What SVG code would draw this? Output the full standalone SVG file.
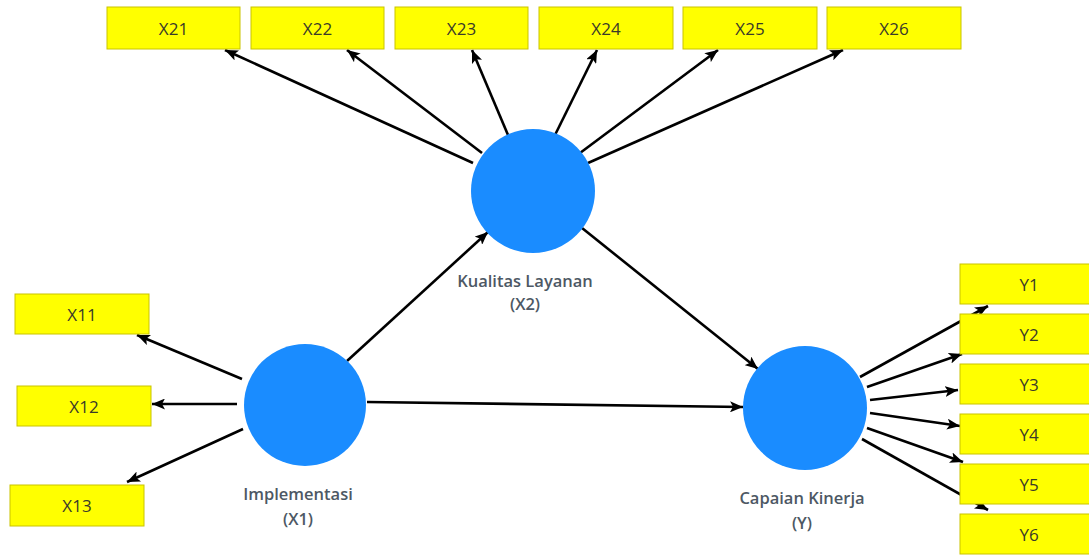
<svg xmlns="http://www.w3.org/2000/svg" width="1089" height="555" viewBox="0 0 1089 555">
<style>
.ind rect{fill:#ffff00;stroke:#c9c400;stroke-width:1}
.ind text{font-family:"Open Sans","Liberation Sans",sans-serif;font-size:17px;fill:#3a3a2a;text-anchor:middle;dominant-baseline:central}
.lat circle{fill:#1a8cff}
.lat text{font-family:"Open Sans","Liberation Sans",sans-serif;font-size:16.5px;font-weight:600;fill:#4d5864;text-anchor:middle;dominant-baseline:central}
.conn line{stroke:#000;stroke-width:2.6;marker-end:url(#ah)}
</style>
<defs>
<marker id="ah" markerUnits="userSpaceOnUse" viewBox="0 0 13 11" refX="13" refY="5.5" markerWidth="13" markerHeight="11" orient="auto">
<path d="M0,0 L13,5.5 L0,11 L3,5.5 Z" fill="#000"/>
</marker>
</defs>
<rect width="1089" height="555" fill="#fff"/>
<g id="connectors" class="conn">
<line x1="473" y1="163" x2="225" y2="50"/>
<line x1="482" y1="153" x2="347" y2="50"/>
<line x1="508" y1="135" x2="472" y2="50"/>
<line x1="555" y1="135" x2="597" y2="50"/>
<line x1="580" y1="153" x2="718" y2="50"/>
<line x1="588" y1="163" x2="843" y2="50"/>
<line x1="242" y1="379" x2="137" y2="335"/>
<line x1="237" y1="404" x2="152" y2="404"/>
<line x1="243" y1="429" x2="127" y2="482"/>
<line x1="347" y1="361" x2="488" y2="232"/>
<line x1="582" y1="228" x2="758" y2="369"/>
<line x1="367" y1="402" x2="743" y2="407"/>
<line x1="860" y1="377" x2="988" y2="306"/>
<line x1="867" y1="387" x2="962" y2="354"/>
<line x1="870" y1="400" x2="958" y2="390"/>
<line x1="870" y1="413" x2="960" y2="426"/>
<line x1="867" y1="428" x2="963" y2="462"/>
<line x1="862" y1="439" x2="988" y2="510"/>
</g>
<g id="X21" class="ind"><rect x="107" y="7" width="133" height="42"/><text x="173.5" y="28">X21</text></g>
<g id="X22" class="ind"><rect x="251" y="7" width="133" height="42"/><text x="317.5" y="28">X22</text></g>
<g id="X23" class="ind"><rect x="395" y="7" width="133" height="42"/><text x="461.5" y="28">X23</text></g>
<g id="X24" class="ind"><rect x="539" y="7" width="134" height="42"/><text x="606" y="28">X24</text></g>
<g id="X25" class="ind"><rect x="683" y="7" width="134" height="42"/><text x="750" y="28">X25</text></g>
<g id="X26" class="ind"><rect x="827" y="7" width="134" height="42"/><text x="894" y="28">X26</text></g>
<g id="X11" class="ind"><rect x="15" y="294" width="134" height="40"/><text x="82" y="314">X11</text></g>
<g id="X12" class="ind"><rect x="17" y="386" width="134" height="40"/><text x="84" y="406">X12</text></g>
<g id="X13" class="ind"><rect x="10" y="485" width="134" height="41"/><text x="77" y="505.5">X13</text></g>
<g id="Y1" class="ind"><rect x="960" y="264" width="135" height="40"/><text x="1029" y="284">Y1</text></g>
<g id="Y2" class="ind"><rect x="960" y="314" width="135" height="40"/><text x="1029" y="334">Y2</text></g>
<g id="Y3" class="ind"><rect x="960" y="364" width="135" height="40"/><text x="1029" y="384">Y3</text></g>
<g id="Y4" class="ind"><rect x="960" y="414" width="135" height="40"/><text x="1029" y="434">Y4</text></g>
<g id="Y5" class="ind"><rect x="960" y="464" width="135" height="40"/><text x="1029" y="484">Y5</text></g>
<g id="Y6" class="ind"><rect x="960" y="514" width="135" height="40"/><text x="1029" y="534">Y6</text></g>
<g id="X2" class="lat"><circle cx="533" cy="191" r="62"/><text x="525" y="280">Kualitas Layanan</text><text x="525" y="303">(X2)</text></g>
<g id="X1" class="lat"><circle cx="305" cy="405" r="61"/><text x="298" y="493">Implementasi</text><text x="298" y="518">(X1)</text></g>
<g id="Y" class="lat"><circle cx="805" cy="408" r="62"/><text x="802" y="497">Capaian Kinerja</text><text x="802" y="522">(Y)</text></g>
</svg>
